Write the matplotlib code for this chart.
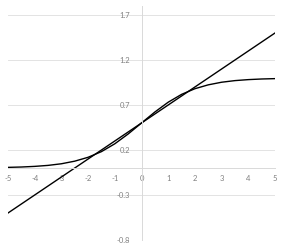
import numpy as np
import matplotlib.pyplot as plt

plt.rcParams['font.family'] = ['Lato', 'DejaVu Sans']
plt.rcParams['axes.unicode_minus'] = False

# ロジスティック曲線（読み取り値）
x_curve = [-5, -4.5, -4, -3.5, -3, -2.5, -2, -1.5, -1, -0.5, 0,
           0.5, 1, 1.5, 2, 2.5, 3, 3.5, 4, 4.5, 5]
y_curve = [0.007, 0.011, 0.018, 0.029, 0.047, 0.076, 0.119, 0.182, 0.269, 0.378, 0.5,
           0.622, 0.731, 0.818, 0.881, 0.924, 0.953, 0.971, 0.982, 0.989, 0.993]

# 直線
x_line = [-5, 5]
y_line = [-0.5, 1.5]

x_ticks = [-5, -4, -3, -2, -1, 0, 1, 2, 3, 4, 5]
y_ticks = [-0.8, -0.3, 0.2, 0.7, 1.2, 1.7]

fig = plt.figure(figsize=(2.85, 2.47), dpi=100)
ax = fig.add_axes([8 / 285, 7 / 247, 267 / 285, 234 / 247])

ax.plot(x_curve, y_curve, color='black', lw=1.0)
ax.plot(x_line, y_line, color='black', lw=1.0)

ax.set_xlim(-5, 5)
ax.set_ylim(-0.8, 1.8)

for t in y_ticks:
    ax.axhline(t, color='#e3e3e3', lw=0.7, zorder=0)

for s in ['top', 'right']:
    ax.spines[s].set_visible(False)
ax.spines['left'].set_position(('data', 0))
ax.spines['bottom'].set_position(('data', 0))
ax.spines['left'].set_color('#d9d9d9')
ax.spines['bottom'].set_color('#d9d9d9')
ax.spines['left'].set_linewidth(0.7)
ax.spines['bottom'].set_linewidth(0.7)

ax.set_xticks(x_ticks)
ax.set_xticklabels([str(v) for v in x_ticks])
ax.set_yticks(y_ticks)
ax.set_yticklabels([str(v) for v in y_ticks])
ax.tick_params(axis='both', length=0, labelsize=5.5, labelcolor='#808080')
ax.tick_params(axis='x', pad=5)
ax.tick_params(axis='y', pad=8)

fig.savefig('out.png', dpi=100)
